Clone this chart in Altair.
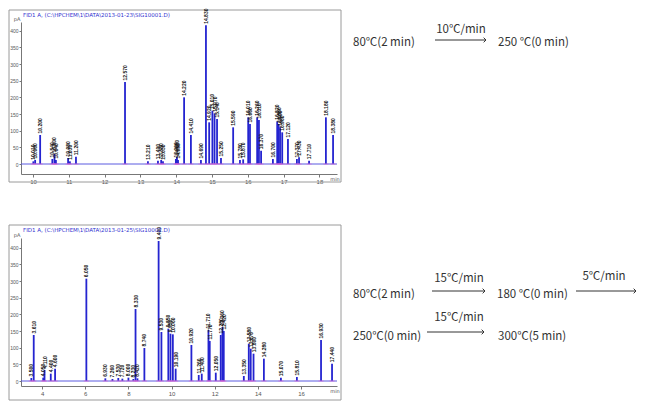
import altair as alt
import pandas as pd

# ---------------- data ----------------
# upper chromatogram (program 1): retention time (min), height (pA)
top_rt = [10.01, 10.06, 10.20, 10.54, 10.60, 10.64, 10.98, 11.03, 11.20, 12.57,
          13.21, 13.49, 13.58, 13.63, 13.99, 14.02, 14.05, 14.22, 14.41, 14.69,
          14.83, 14.92, 15.01, 15.07, 15.14, 15.25, 15.59, 15.78, 15.87, 16.01,
          16.06, 16.26, 16.31, 16.37, 16.70, 16.82, 16.86, 16.90, 16.96, 17.12,
          17.37, 17.43, 17.71, 18.18, 18.38]
top_h = [8, 12, 87, 15, 30, 12, 18, 8, 22, 246,
         8, 10, 12, 8, 15, 22, 12, 200, 87, 12,
         416, 125, 160, 152, 135, 18, 110, 12, 14, 140,
         120, 140, 132, 40, 15, 128, 120, 110, 95, 75,
         15, 20, 10, 140, 87]

# lower chromatogram (program 2)
bot_rt = [3.50, 3.61, 4.05, 4.11, 4.40, 4.60, 6.05, 6.93, 7.26, 7.53,
          7.72, 8.00, 8.23, 8.33, 8.42, 8.74, 9.40, 9.53, 9.85, 9.95,
          10.06, 10.19, 10.92, 11.26, 11.40, 11.71, 11.77, 12.05, 12.28, 12.36,
          12.42, 13.35, 13.58, 13.67, 13.80, 14.28, 15.07, 15.81, 16.93, 17.44]
bot_h = [9, 138, 10, 33, 22, 37, 307, 8, 6, 9,
         7, 10, 6, 216, 8, 99, 420, 147, 157, 142,
         140, 37, 108, 18, 22, 153, 120, 25, 138, 162,
         150, 15, 112, 97, 82, 67, 10, 12, 123, 52]

top_xticks = [10, 11, 12, 13, 14, 15, 16, 17, 18]
bot_xticks = [4, 6, 8, 10, 12, 14, 16]
y_ticks = [0, 50, 100, 150, 200, 250, 300, 350, 400]

top_title = "FID1 A, (C:\\HPCHEM\\1\\DATA\\2013-01-23\\SIG10001.D)"
bot_title = "FID1 A, (C:\\HPCHEM\\1\\DATA\\2013-01-25\\SIG10002.D)"

prog1_temps = ["80℃(2 min)", "250 ℃(0 min)"]
prog1_rates = ["10℃/min"]
prog2_temps = ["80℃(2 min)", "180 ℃(0 min)", "250℃(0 min)", "300℃(5 min)"]
prog2_rates = ["15℃/min", "5℃/min", "15℃/min"]

PEAK = "#2424d0"
AX = "#777777"
TXT = "#333333"
FONT = "Noto Sans CJK KR"
one = pd.DataFrame({"a": [0]})


def text_at(s, x, y, size=11.5, align="left", color=TXT, font=FONT):
    return alt.Chart(one).mark_text(
        text=s, align=align, baseline="middle", fontSize=size, color=color, font=font
    ).encode(x=alt.value(x), y=alt.value(y))


def arrow(x1, x2, y):
    line = alt.Chart(one).mark_rule(color=TXT, strokeWidth=1).encode(
        x=alt.value(x1), x2=alt.value(x2), y=alt.value(y))
    head = alt.Chart(one).mark_point(
        shape="M-1,-1L0,0L-1,1", filled=False, size=22, color=TXT, strokeWidth=1, opacity=1
    ).encode(x=alt.value(x2), y=alt.value(y))
    return [line, head]


def panel(rt, h, xdom, ydom, xticks, width, height, fr, title, extras):
    df = pd.DataFrame({"rt": rt, "h": h, "base": [0] * len(rt)})
    df["label"] = [f"{v:.3f}" for v in rt]
    xs = alt.Scale(domain=xdom, nice=False, zero=False)
    ys = alt.Scale(domain=ydom, nice=False, zero=False)
    xax = alt.Axis(values=xticks, format="d", labelFontSize=6, labelColor="#555",
                   tickSize=3, tickColor=AX, domainColor=AX, grid=False,
                   labelPadding=1, labelOverlap=False, labelFlush=False)
    yax = alt.Axis(values=y_ticks, labelFontSize=5, labelColor="#555",
                   tickSize=2, tickColor=AX, domainColor=AX, grid=False,
                   labelPadding=1, labelOverlap=False, labelFlush=False)

    def X(f):
        return alt.X(f, scale=xs, axis=xax, title=None)

    def Y(f):
        return alt.Y(f, scale=ys, axis=yax, title=None)

    frame = alt.Chart(one).mark_rect(fillOpacity=0, stroke="#9a9a9a", strokeWidth=1).encode(
        x=alt.value(fr[0]), x2=alt.value(fr[1]), y=alt.value(fr[2]), y2=alt.value(fr[3]))

    bl = pd.DataFrame({"x0": [xdom[0]], "x1": [xdom[1]], "y0": [0]})
    baseline = alt.Chart(bl).mark_rule(color="#5a5ae0", strokeWidth=1).encode(
        x=X("x0:Q"), x2="x1:Q", y=Y("y0:Q"))
    pink = alt.Chart(df).mark_tick(color="#e060d0", thickness=1, size=5, orient="horizontal").encode(
        x=X("rt:Q"), y=Y("base:Q"))

    peaks = alt.Chart(df).mark_rule(color=PEAK, strokeWidth=1.8).encode(
        x=X("rt:Q"), y=Y("base:Q"), y2="h:Q")

    labels = alt.Chart(df).mark_text(
        angle=270, align="left", baseline="middle", dx=1.5, fontSize=5, color="#111111",
        fontWeight="bold"
    ).encode(x=X("rt:Q"), y=Y("h:Q"), text="label:N")

    deco = [
        text_at(title, 2, fr[2] + 5, size=5.5, color="#3030d0", font="DejaVu Sans"),
        text_at("pA", -4, -3, size=5, align="center", color="#555", font="DejaVu Sans"),
        text_at("min", width - 2, height + 5, size=5, align="center", color="#555",
                font="DejaVu Sans"),
    ]
    return alt.layer(frame, peaks, baseline, pink, labels, *deco, *extras).properties(
        width=width, height=height)


# right-hand temperature programs (positions relative to each plot area)
extras1 = [
    text_at(prog1_temps[0], 332, 21),
    text_at(prog1_rates[0], 440, 8, align="center"),
    *arrow(414, 465, 18),
    text_at(prog1_temps[1], 477, 21),
]
extras2 = [
    text_at(prog2_temps[0], 332, 57),
    text_at(prog2_rates[0], 438, 41, align="center"),
    *arrow(411, 464, 53),
    text_at(prog2_temps[1], 476, 57),
    text_at(prog2_rates[1], 583, 39, align="center"),
    *arrow(555, 615, 53),
    text_at(prog2_temps[2], 332, 99),
    text_at(prog2_rates[2], 438, 80, align="center"),
    *arrow(406, 463, 94),
    text_at(prog2_temps[3], 477, 99),
]

top = panel(top_rt, top_h, [9.665, 18.49], [-30, 426], top_xticks, 316, 152,
            (-12, 320, -12, 160), top_title, extras1)
bot = panel(bot_rt, bot_h, [3.02, 17.67], [-15, 429], bot_xticks, 316, 148,
            (-12, 320, -13, 162), bot_title, extras2)

chart = alt.vconcat(top, bot, spacing=64, bounds="flush").properties(
    padding=0, background="white"
).configure_view(strokeWidth=0)

chart.save("out.html", embed_options={"renderer": "svg", "actions": False})
